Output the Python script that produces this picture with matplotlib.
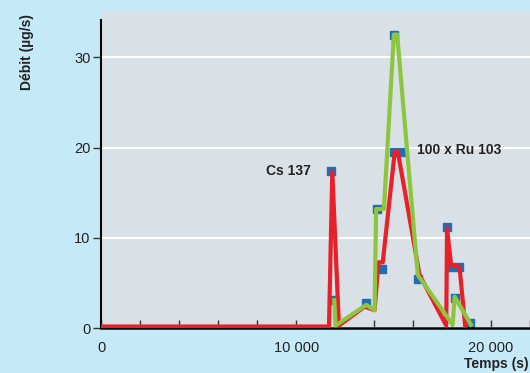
import matplotlib.pyplot as plt
import numpy as np

plt.rcParams["font.family"] = ["Liberation Sans", "DejaVu Sans"]

# Cs 137 (red)
cs_t = [0, 11680, 11850, 12190, 13510, 14020, 14220, 14440, 15060, 15210,
        16330, 17700, 17740, 17950, 18380, 18670]
cs_v = [0.2, 0.2, 17.3, 0.3, 2.4, 2.0, 7.3, 7.3, 19.6, 19.6,
        5.9, 0.3, 11.1, 7.0, 6.8, 0.3]

# 100 x Ru 103 (green)
ru_t = [11950, 12020, 13590, 14020, 14100, 14500, 15010, 15180,
        16240, 18030, 18130, 18970]
ru_v = [3.1, 0.3, 2.6, 2.0, 13.2, 13.2, 32.5, 32.5,
        5.9, 0.4, 3.5, 0.4]

# measured points (blue squares)
pt_t = [11780, 11950, 13590, 14140, 14410, 15010, 15000, 15420,
        16240, 17720, 17950, 18380, 18130, 18920]
pt_v = [17.4, 3.1, 2.8, 13.2, 6.6, 32.5, 19.5, 19.5,
        5.5, 11.2, 6.8, 6.8, 3.4, 0.6]

bg = "#c6e9f8"
fig = plt.figure(figsize=(5.3, 3.73), dpi=100, facecolor=bg)
ax = fig.add_axes([0.1915, 0.1198, 0.8085, 0.848])
ax.set_facecolor("#d9e1e6")

ax.plot(pt_t, pt_v, ls="none", marker="s", ms=6, color="#1f6fb6", zorder=2)
ax.plot(cs_t, cs_v, color="#e8202a", lw=3, zorder=3)
ax.plot(ru_t, ru_v, color="#8cc63f", lw=3, zorder=4)

ax.set_xlim(0, 22000)
ax.set_ylim(0, 35)
ax.set_xticks([0, 10000, 20000])
ax.set_xticklabels(["0", "10 000", "20 000"])
ax.set_xticks(np.arange(0, 22001, 2000), minor=True)
ax.set_yticks([0, 10, 20, 30])

ax.tick_params(axis="x", which="both", direction="in", length=6, width=1,
               color="#333333", labelsize=10.5, pad=9, labelcolor="#222222")
ax.tick_params(axis="y", direction="out", length=6, width=1,
               color="#333333", labelsize=10.5, pad=2, labelcolor="#222222")
ax.yaxis.grid(True, color="white", lw=1.5)
ax.set_axisbelow(True)

for s in ["top", "right"]:
    ax.spines[s].set_visible(False)
ax.spines["left"].set_bounds(0, 34.1)
ax.spines["left"].set_linewidth(1.5)
ax.spines["bottom"].set_linewidth(1.8)

ax.text(10740, 17.4, "Cs 137", fontsize=10, fontweight="bold",
        ha="right", va="center", color="#222222")
ax.text(16200, 19.7, "100 x Ru 103", fontsize=10, fontweight="bold",
        ha="left", va="center", color="#222222")

fig.text(0.05, 0.86, "Débit (µg/s)", rotation=90, fontsize=10,
         fontweight="bold", ha="center", va="center", color="#222222")
fig.text(0.997, 0.005, "Temps (s)", fontsize=10, fontweight="bold",
         ha="right", va="bottom", color="#222222")

plt.savefig("out.png", dpi=100, facecolor=bg)
